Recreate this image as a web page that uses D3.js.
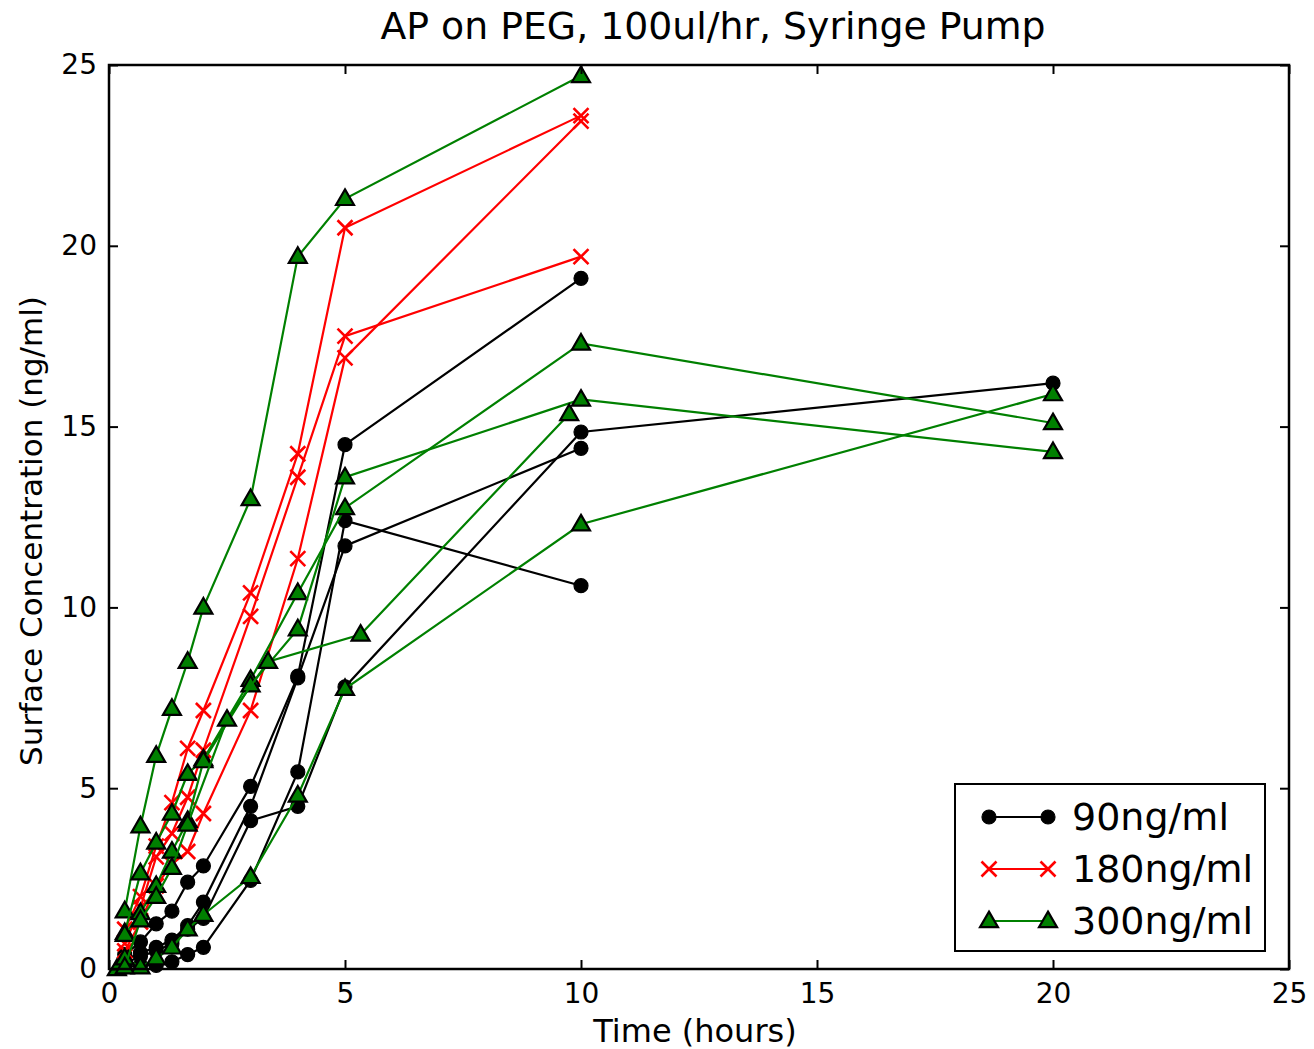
<!DOCTYPE html>
<html><head><meta charset="utf-8">
<script src="https://cdn.jsdelivr.net/npm/d3@7"></script>
<style>body{margin:0;background:#fff}svg{display:block}</style>
</head><body>
<script>
// ---- data ----
const T = [1/3, 2/3, 1, 4/3, 5/3, 2, 3, 4, 5, 10];
const T20 = [1/3, 2/3, 1, 4/3, 5/3, 2, 3, 4, 5, 10, 20];
const TG4 = [1/6, 1/3, 2/3, 1, 4/3, 5/3, 2, 3, 4, 5, 10, 20];
const TG5 = [1/3, 2/3, 1, 4/3, 5/3, 2.5, 3.37, 5.33, 9.75];

const bk1 = [0.4, 0.75, 1.25, 1.6, 2.4, 2.85, 5.05, 8.1, 14.5, 19.1];
const bk2 = [0.25, 0.45, 0.6, 0.8, 1.2, 1.85, 4.5, 8.05, 11.7, 14.4];
const bk3 = [0.15, 0.35, 0.5, 0.7, 1.1, 1.4, 4.1, 4.5, 7.8, 14.85, 16.2];
const bk4 = [0.05, 0.1, 0.1, 0.2, 0.4, 0.6, 2.45, 5.45, 12.4, 10.6];

const rd1 = [1.1, 2.0, 3.4, 4.6, 6.1, 7.15, 10.4, 14.25, 20.5, 23.6];
const rd2 = [0.7, 1.7, 3.1, 3.75, 4.75, 6.05, 9.75, 13.6, 17.5, 19.7];
const rd3 = [0.5, 1.3, 2.3, 2.9, 3.25, 4.3, 7.15, 11.35, 16.9, 23.45];

const gr1 = [1.6, 3.95, 5.9, 7.2, 8.5, 10.0, 13.0, 19.7, 21.3, 24.7];
const gr2 = [1.0, 2.65, 3.5, 4.3, 5.4, 5.8, 8.0, 10.4, 12.75, 17.3, 15.1];
const gr3 = [0.95, 1.55, 2.3, 3.25, 4.1, 5.75, 7.85, 9.4, 13.6, 15.75, 14.3];
const gr4 = [0, 0.3, 0.05, 0.3, 0.6, 1.1, 1.5, 2.55, 4.8, 7.75, 12.3, 15.9];
const gr5 = [0.05, 1.35, 2.0, 2.8, 4.0, 6.9, 8.5, 9.25, 15.35];

const xTicks = [0, 5, 10, 15, 20, 25];
const yTicks = [0, 5, 10, 15, 20, 25];
const legendLabels = ["90ng/ml", "180ng/ml", "300ng/ml"];
const titleText = "AP on PEG, 100ul/hr, Syringe Pump";
const xLabel = "Time (hours)";
const yLabel = "Surface Concentration (ng/ml)";

// ---- layout ----
const W = 1314, H = 1049;
const m = {left: 109, right: 1289, top: 65, bottom: 969};
const x = d3.scaleLinear().domain([0, 25]).range([m.left, m.right]);
const y = d3.scaleLinear().domain([0, 25]).range([m.bottom, m.top]);

const svg = d3.select("body").append("svg").attr("width", W).attr("height", H);

const series = [
  {t: T, v: bk1, k: "b"}, {t: T, v: bk2, k: "b"}, {t: T20, v: bk3, k: "b"}, {t: T, v: bk4, k: "b"},
  {t: T, v: rd1, k: "r"}, {t: T, v: rd2, k: "r"}, {t: T, v: rd3, k: "r"},
  {t: T, v: gr1, k: "g"}, {t: T20, v: gr2, k: "g"}, {t: T20, v: gr3, k: "g"}, {t: TG4, v: gr4, k: "g"}, {t: TG5, v: gr5, k: "g"}
];
const col = {b: "#000000", r: "#ff0000", g: "#008000"};

function marker(g, k, cx, cy) {
  if (k === "b") {
    g.append("circle").attr("cx", cx).attr("cy", cy).attr("r", 7)
      .attr("fill", "#000").attr("stroke", "#000").attr("stroke-width", 1.2);
  } else if (k === "r") {
    const s = 7.5;
    g.append("path").attr("d", `M${cx-s},${cy-s}L${cx+s},${cy+s}M${cx-s},${cy+s}L${cx+s},${cy-s}`)
      .attr("stroke", "#ff0000").attr("stroke-width", 2.6).attr("fill", "none");
  } else {
    g.append("path").attr("transform", `translate(${cx},${cy+1})`)
      .attr("d", d3.symbol(d3.symbolTriangle, 140)())
      .attr("fill", "#008000").attr("stroke", "#000").attr("stroke-width", 2.2).attr("stroke-linejoin", "miter");
  }
}

const plot = svg.append("g");
const line = d3.line().x(d => x(d[0])).y(d => y(d[1]));
series.forEach(s => {
  const pts = s.t.map((t, i) => [t, s.v[i]]);
  const g = plot.append("g");
  g.append("path").attr("d", line(pts)).attr("fill", "none")
    .attr("stroke", col[s.k]).attr("stroke-width", 2.2);
  pts.forEach(p => marker(g, s.k, x(p[0]), y(p[1])));
});

// ---- axes ----
const font = "DejaVu Sans";
const xAxB = d3.axisBottom(x).tickValues(xTicks).tickSizeInner(-9).tickSizeOuter(0).tickPadding(14);
const xAxT = d3.axisTop(x).tickValues(xTicks).tickSizeInner(-9).tickSizeOuter(0).tickFormat("");
const yAxL = d3.axisLeft(y).tickValues(yTicks).tickSizeInner(-9).tickSizeOuter(0).tickPadding(12);
const yAxR = d3.axisRight(y).tickValues(yTicks).tickSizeInner(-9).tickSizeOuter(0).tickFormat("");

function style(g) {
  g.select(".domain").remove();
  g.selectAll(".tick line").attr("stroke", "#000").attr("stroke-width", 2);
  g.selectAll(".tick text").attr("font-family", font).attr("font-size", 28).attr("fill", "#000");
}
svg.append("g").attr("transform", `translate(0,${m.bottom})`).call(xAxB).call(style);
svg.append("g").attr("transform", `translate(0,${m.top})`).call(xAxT).call(style);
svg.append("g").attr("transform", `translate(${m.left},0)`).call(yAxL).call(style);
svg.append("g").attr("transform", `translate(${m.right},0)`).call(yAxR).call(style);

svg.append("rect").attr("x", m.left).attr("y", m.top).attr("width", m.right - m.left)
  .attr("height", m.bottom - m.top).attr("fill", "none").attr("stroke", "#000").attr("stroke-width", 2.5);

// ---- labels ----
svg.append("text").attr("x", 713).attr("y", 39).attr("text-anchor", "middle")
  .attr("font-family", font).attr("font-size", 37.8).text(titleText);
svg.append("text").attr("x", 695).attr("y", 1042).attr("text-anchor", "middle")
  .attr("font-family", font).attr("font-size", 32).text(xLabel);
svg.append("text").attr("transform", `translate(42,531) rotate(-90)`)
  .attr("text-anchor", "middle").attr("font-family", font).attr("font-size", 31).text(yLabel);

// ---- legend ----
const lg = svg.append("g");
lg.append("rect").attr("x", 955).attr("y", 784).attr("width", 310).attr("height", 167)
  .attr("fill", "#fff").attr("stroke", "#000").attr("stroke-width", 2);
["b", "r", "g"].forEach((k, i) => {
  const ly = 817 + i * 52;
  lg.append("line").attr("x1", 989).attr("x2", 1048).attr("y1", ly).attr("y2", ly)
    .attr("stroke", col[k]).attr("stroke-width", 2.2);
  marker(lg, k, 989, ly);
  marker(lg, k, 1048, ly);
  lg.append("text").attr("x", 1072).attr("y", ly + 13).attr("font-family", font)
    .attr("font-size", 38).text(legendLabels[i]);
});
</script>
</body></html>
